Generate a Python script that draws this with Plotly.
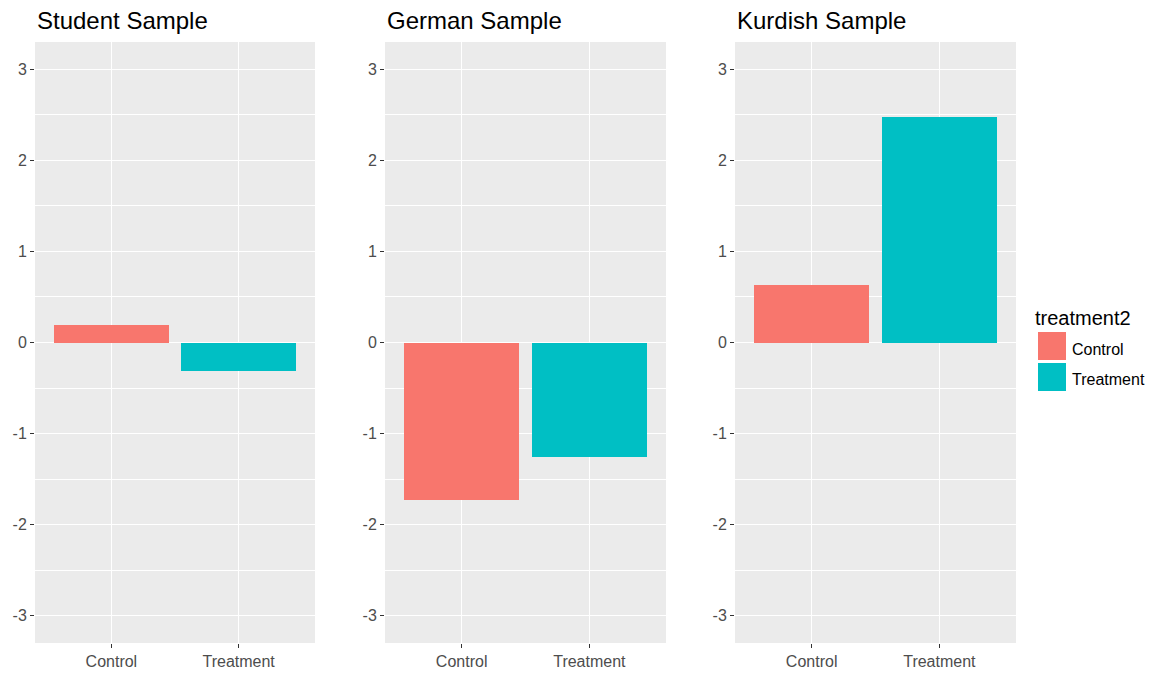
import plotly.graph_objects as go
from plotly.subplots import make_subplots

# data
panels = ["Student Sample", "German Sample", "Kurdish Sample"]
groups = ["Control", "Treatment"]
student = [0.19, -0.31]
german = [-1.73, -1.26]
kurdish = [0.63, 2.48]
colors = ["#F8766D", "#00BFC4"]
yticks = [-3, -2, -1, 0, 1, 2, 3]
ytick_labels = ["-3", "-2", "-1", "0", "1", "2", "3"]

W, H = 1156, 673
L, R, T, B = 35, 140, 42, 30
pw = W - L - R
ph = H - T - B


def px_x(x):
    return (x - L) / pw


def px_y(y):
    return (H - B - y) / ph


fig = make_subplots(rows=1, cols=3)

for i, vals in enumerate([student, german, kurdish]):
    fig.add_trace(go.Bar(x=groups, y=vals, marker_color=colors, marker_line_width=0,
                         width=0.9, showlegend=False), row=1, col=i + 1)

domains = [[0, px_x(315)], [px_x(385), px_x(666)], [px_x(735), 1]]
axis_font = dict(family="Liberation Sans, Arial", size=16, color="#4D4D4D")
for i in range(3):
    fig.update_xaxes(domain=domains[i], range=[-0.6, 1.6], showgrid=True, gridcolor="white",
                     gridwidth=1.2, ticks="outside", ticklen=4, tickcolor="#333333",
                     tickfont=axis_font, zeroline=False, showline=False, automargin=False,
                     row=1, col=i + 1)
    fig.update_yaxes(range=[-3.3, 3.3], tickvals=yticks, ticktext=ytick_labels,
                     showgrid=True, gridcolor="white",
                     gridwidth=1.2, ticks="outside", ticklen=4, tickcolor="#333333",
                     tickfont=axis_font, zeroline=False, showline=False, automargin=False,
                     minor=dict(dtick=0.5, tick0=0, showgrid=True, gridcolor="white",
                                gridwidth=0.6, ticklen=0),
                     row=1, col=i + 1)
    fig.add_annotation(text=panels[i], xref="paper", yref="paper", x=domains[i][0],
                       y=px_y(20), xanchor="left", yanchor="middle", showarrow=False,
                       font=dict(family="Liberation Sans, Arial", size=24, color="black"))

# legend drawn by hand (ggplot style keys)
fig.add_annotation(text="treatment2", xref="paper", yref="paper", x=px_x(1033), y=px_y(318),
                   xanchor="left", yanchor="middle", showarrow=False,
                   font=dict(family="Liberation Sans, Arial", size=20, color="black"))
for j, g in enumerate(groups):
    top = 332 + j * 31
    fig.add_shape(type="rect", xref="paper", yref="paper", x0=px_x(1038), x1=px_x(1066),
                  y0=px_y(top), y1=px_y(top + 28), fillcolor=colors[j], line_width=0)
    fig.add_annotation(text=g, xref="paper", yref="paper", x=px_x(1070), y=px_y(top + 17),
                       xanchor="left", yanchor="middle", showarrow=False,
                       font=dict(family="Liberation Sans, Arial", size=16, color="black"))

fig.update_layout(width=W, height=H, margin=dict(l=L, r=R, t=T, b=B, autoexpand=False),
                  plot_bgcolor="#EBEBEB", paper_bgcolor="white", bargap=0,
                  showlegend=False)

fig.write_html("out.html", config={"displayModeBar": False},
               post_script="document.body.style.margin='0px';")
